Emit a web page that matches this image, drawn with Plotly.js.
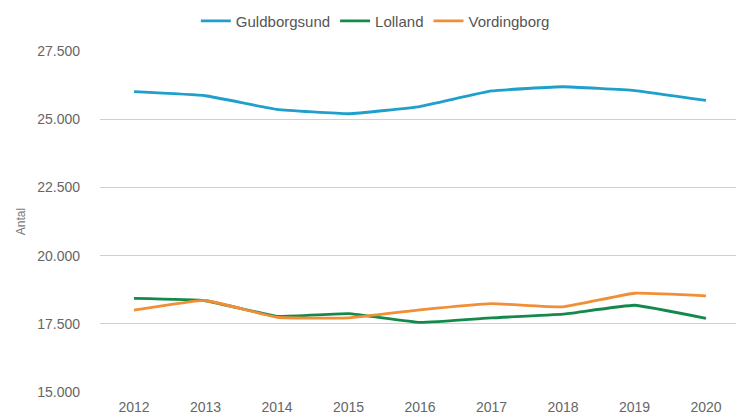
<!DOCTYPE html>
<html>
<head>
<meta charset="utf-8">
<script src="https://cdn.plot.ly/plotly-3.0.1.min.js"></script>
<style>html,body{margin:0;padding:0;background:#fff;}#chart{width:736px;height:414px;}</style>
</head>
<body>
<div id="chart"></div>
<script>
const years = ["2012","2013","2014","2015","2016","2017","2018","2019","2020"];
const guldborgsund = [26010, 25860, 25360, 25200, 25465, 26035, 26190, 26050, 25690];
const lolland = [18430, 18345, 17775, 17870, 17550, 17715, 17855, 18180, 17700];
const vordingborg = [18000, 18355, 17740, 17715, 18010, 18240, 18120, 18620, 18525];
const seriesNames = ["Guldborgsund", "Lolland", "Vordingborg"];
const colors = ["#1f9fcc", "#138a4c", "#f28e35"];
const yTicks = [15000, 17500, 20000, 22500, 25000, 27500];

const data = [guldborgsund, lolland, vordingborg].map((vals, i) => ({
  x: years, y: vals, type: "scatter", mode: "lines", name: seriesNames[i],
  line: {color: colors[i], width: 2.8, shape: "spline", smoothing: 0.3}
}));

const layout = {
  width: 736, height: 414,
  margin: {l: 100, r: 0, t: 51, b: 22},
  paper_bgcolor: "#fff", plot_bgcolor: "#fff",
  separators: ",.",
  font: {family: "Liberation Sans, Arial, sans-serif", size: 14, color: "#666"},
  showlegend: true,
  legend: {orientation: "h", x: 0.51, xanchor: "center", xref: "container",
           y: 0.949, yanchor: "middle", yref: "container",
           font: {size: 15, color: "#555"}, itemwidth: 30, tracegroupgap: 0},
  xaxis: {type: "category", range: [-0.476, 8.42], showgrid: false, zeroline: false,
          showline: false, ticks: "", ticklabelstandoff: 5,
          tickfont: {size: 14, color: "#666"}, fixedrange: true},
  yaxis: {range: [15000, 27500], tickvals: yTicks, tickformat: ",d", gridcolor: "#cfcfcf",
          gridwidth: 1, zeroline: false, showline: false, ticks: "", ticklabelstandoff: 19,
          tickfont: {size: 14, color: "#666"},
          title: {text: "Antal", font: {size: 12, color: "#777"}, standoff: 8}}
};
Plotly.newPlot("chart", data, layout, {staticPlot: true});
</script>
</body>
</html>
